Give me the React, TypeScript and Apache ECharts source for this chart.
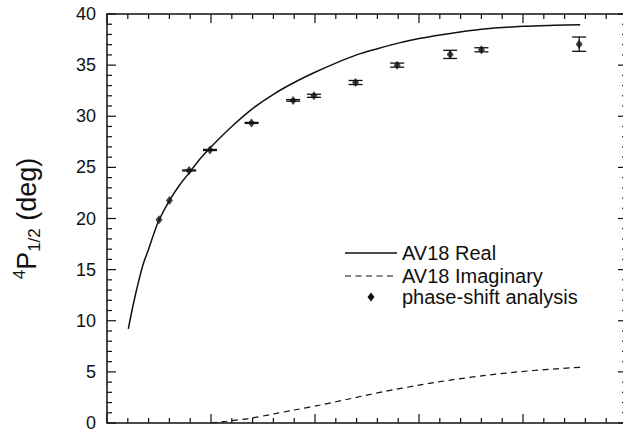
import React, { useEffect, useRef } from "react";
import * as echarts from "echarts";

// AV18 real part of the 4P1/2 phase shift (x in axis units, y in degrees)
const realX = [0.205, 0.24, 0.27, 0.31, 0.35, 0.4, 0.45, 0.5, 0.6, 0.7, 0.8, 0.9, 1.0, 1.2, 1.4, 1.6, 1.8, 2.0, 2.2, 2.4, 2.6, 2.8, 3.0, 3.3, 3.6, 4.0, 4.3, 4.55];
const realY = [9.2, 11.0, 12.4, 14.1, 15.6, 17.0, 18.5, 19.85, 21.75, 23.3, 24.6, 25.9, 27.0, 29.0, 30.75, 32.15, 33.3, 34.3, 35.2, 36.0, 36.6, 37.15, 37.6, 38.1, 38.5, 38.8, 38.9, 38.95];

// AV18 imaginary part
const imagX = [1.0, 1.15, 1.375, 1.6, 1.8, 2.05, 2.35, 2.65, 3.0, 3.3, 3.6, 3.95, 4.25, 4.55];
const imagY = [0, 0.17, 0.46, 0.88, 1.27, 1.76, 2.4, 3.05, 3.7, 4.2, 4.6, 5.0, 5.25, 5.45];

// Phase-shift analysis points with their uncertainties
const psaX = [0.5, 0.6, 0.79, 0.99, 1.39, 1.79, 1.99, 2.39, 2.79, 3.3, 3.6, 4.54];
const psaY = [19.87, 21.76, 24.7, 26.7, 29.35, 31.55, 32.0, 33.3, 35.0, 36.05, 36.5, 37.05];
const psaErr = [0, 0, 0.05, 0.05, 0.05, 0.08, 0.15, 0.2, 0.2, 0.4, 0.2, 0.7];

// Legend entries
const legendLabels = ["AV18 Real", "AV18 Imaginary", "phase-shift analysis"];

// Axis ranges and tick spacing (major / minor)
const xRange = { min: 0, max: 5, major: 1, minor: 0.2 };
const yRange = { min: 0, max: 40, major: 5, minor: 1 };

const FONT = "'Liberation Sans', Arial, Helvetica, sans-serif";
const INK = "#111";

// Tick rows for the boxed frame: [kind, value, isMajor]; kind 0 = x tick, 1 = y tick, 2 = border
function frameRows() {
  const rows: number[][] = [[2, 0, 0]];
  const nx = Math.round((xRange.max - xRange.min) / xRange.minor);
  for (let i = 0; i <= nx; i++) {
    const v = +(xRange.min + i * xRange.minor).toFixed(4);
    rows.push([0, v, i % Math.round(xRange.major / xRange.minor) === 0 ? 1 : 0]);
  }
  const ny = Math.round((yRange.max - yRange.min) / yRange.minor);
  for (let i = 0; i <= ny; i++) {
    const v = +(yRange.min + i * yRange.minor).toFixed(4);
    rows.push([1, v, i % Math.round(yRange.major / yRange.minor) === 0 ? 1 : 0]);
  }
  return rows;
}

export default function App() {
  const ref = useRef<HTMLDivElement>(null);

  useEffect(() => {
    if (!ref.current) return;
    document.body.style.overflow = "hidden";
    const chart = echarts.init(ref.current, undefined, { renderer: "svg" });

    const realData = realX.map((x, i) => [x, realY[i]]);
    const imagData = imagX.map((x, i) => [x, imagY[i]]);
    const psaData = psaX.map((x, i) => [x, psaY[i]]);
    const errData = psaX.map((x, i) => [x, psaY[i], psaErr[i]]);
    const legendRows = [253, 276, 297];

    chart.setOption({
      animation: false,
      backgroundColor: "#fff",
      grid: { left: 107, top: 14, right: 0, bottom: 8 },
      xAxis: {
        type: "value",
        min: xRange.min,
        max: xRange.max,
        interval: xRange.major,
        axisLine: { show: false },
        axisTick: { show: false },
        axisLabel: { show: false },
        splitLine: { show: false },
      },
      yAxis: {
        type: "value",
        min: yRange.min,
        max: yRange.max,
        interval: yRange.major,
        axisLine: { show: false },
        axisTick: { show: false },
        splitLine: { show: false },
        axisLabel: { show: true, margin: 11, color: INK, fontSize: 18, fontFamily: FONT },
        name: "{sup|4}{main|P}{sub|1/2}{main| (deg)}",
        nameLocation: "middle",
        nameRotate: 90,
        nameGap: 64,
        nameTextStyle: {
          color: INK,
          fontFamily: FONT,
          rich: {
            main: { fontSize: 27, lineHeight: 32, fontFamily: FONT, color: INK },
            sup: { fontSize: 17, fontFamily: FONT, color: INK, verticalAlign: "top" },
            sub: { fontSize: 17, fontFamily: FONT, color: INK, verticalAlign: "bottom" },
          },
        },
      },
      series: [
        {
          // boxed frame with inward ticks on all four sides, placed through the axis scales
          name: "frame",
          type: "custom",
          data: frameRows(),
          silent: true,
          z: 1,
          renderItem: (_params: any, api: any) => {
            const kind = api.value(0);
            const v = api.value(1);
            const len = api.value(2) ? 9 : 5;
            const tick = { stroke: INK, lineWidth: 1.2 };
            if (kind === 2) {
              const a = api.coord([xRange.min, yRange.min]);
              const b = api.coord([xRange.max, yRange.max]);
              return {
                type: "rect",
                shape: { x: a[0], y: b[1], width: b[0] - a[0], height: a[1] - b[1] },
                style: { fill: "none", stroke: INK, lineWidth: 1.5 },
              };
            }
            if (kind === 0) {
              const lo = api.coord([v, yRange.min]);
              const hi = api.coord([v, yRange.max]);
              return {
                type: "group",
                children: [
                  { type: "line", shape: { x1: lo[0], y1: lo[1], x2: lo[0], y2: lo[1] - len }, style: tick },
                  { type: "line", shape: { x1: hi[0], y1: hi[1], x2: hi[0], y2: hi[1] + len }, style: { ...tick } },
                ],
              };
            }
            const l = api.coord([xRange.min, v]);
            const r = api.coord([xRange.max, v]);
            return {
              type: "group",
              children: [
                { type: "line", shape: { x1: l[0], y1: l[1], x2: l[0] + len, y2: l[1] }, style: tick },
                { type: "line", shape: { x1: r[0], y1: r[1], x2: r[0] - len, y2: r[1] }, style: { ...tick } },
              ],
            };
          },
        },
        {
          name: legendLabels[0],
          type: "line",
          data: realData,
          smooth: 0.3,
          symbol: "none",
          lineStyle: { color: INK, width: 1.5 },
          z: 3,
        },
        {
          name: legendLabels[1],
          type: "line",
          data: imagData,
          smooth: 0.3,
          symbol: "none",
          lineStyle: { color: INK, width: 1.2, type: [6, 4.5] },
          z: 3,
        },
        {
          name: "errors",
          type: "custom",
          data: errData,
          z: 4,
          renderItem: (_params: any, api: any) => {
            const x = api.value(0);
            const y = api.value(1);
            const e = api.value(2);
            if (!e) return { type: "group", children: [] };
            const hi = api.coord([x, y + e]);
            const lo = api.coord([x, y - e]);
            const hw = 7;
            return {
              type: "group",
              children: [
                { type: "line", shape: { x1: hi[0], y1: hi[1], x2: lo[0], y2: lo[1] }, style: { stroke: INK, lineWidth: 1.3 } },
                { type: "line", shape: { x1: hi[0] - hw, y1: hi[1], x2: hi[0] + hw, y2: hi[1] }, style: { stroke: INK, lineWidth: 1.3 } },
                { type: "line", shape: { x1: lo[0] - hw, y1: lo[1], x2: lo[0] + hw, y2: lo[1] }, style: { stroke: INK, lineWidth: 1.3 } },
              ],
            };
          },
        },
        {
          name: legendLabels[2],
          type: "scatter",
          data: psaData,
          symbol: "diamond",
          symbolSize: [7, 9],
          itemStyle: { color: INK },
          z: 5,
        },
      ],
      graphic: [
        { type: "line", shape: { x1: 345, y1: legendRows[0], x2: 397, y2: legendRows[0] }, style: { stroke: INK, lineWidth: 1.5 } },
        { type: "line", shape: { x1: 345, y1: legendRows[1], x2: 397, y2: legendRows[1] }, style: { stroke: INK, lineWidth: 1.2, lineDash: [6, 4.5] } },
        {
          type: "polygon",
          shape: { points: [[371, legendRows[2] - 4.5], [374.5, legendRows[2]], [371, legendRows[2] + 4.5], [367.5, legendRows[2]]] },
          style: { fill: INK },
        },
        ...legendLabels.map((label, i) => ({
          type: "text",
          x: 402,
          y: legendRows[i],
          style: { text: label, fill: INK, fontSize: 20, fontFamily: FONT, verticalAlign: "middle", align: "left" },
        })),
      ],
    } as any);

    return () => chart.dispose();
  }, []);

  // The canvas runs 4px past the page's right edge so the frame's right border sits just outside it
  return (
    <div
      ref={ref}
      style={{ position: "fixed", left: 0, top: 0, width: 627, height: 432, background: "#fff" }}
    />
  );
}
